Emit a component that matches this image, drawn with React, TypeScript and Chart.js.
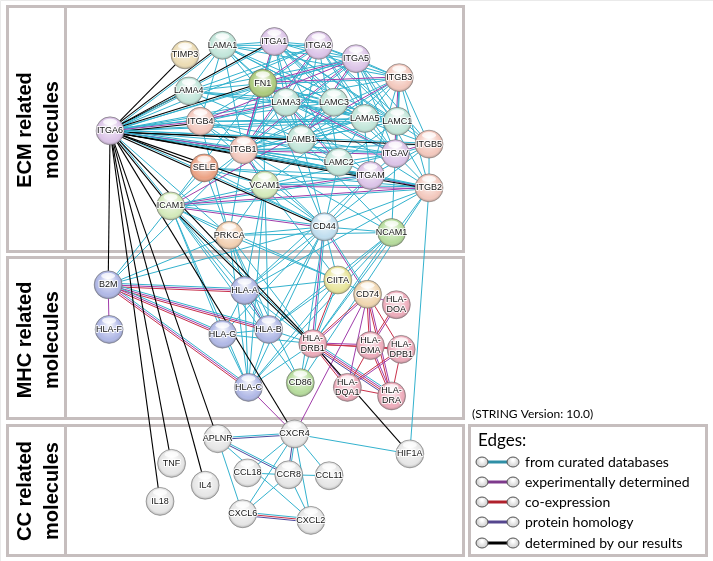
import React, { useEffect, useRef } from "react";
import { Chart, registerables } from "chart.js";
Chart.register(...registerables);

// ---------- data ----------
const nodeNames = [
  "TIMP3", "LAMA1", "ITGA1", "ITGA2", "ITGA5", "ITGB3", "FN1", "LAMA4", "LAMA3", "LAMC3",
  "LAMA5", "LAMC1", "ITGA6", "ITGB4", "LAMB1", "ITGB5", "ITGB1", "ITGAV", "LAMC2", "SELE",
  "ITGAM", "VCAM1", "ITGB2", "ICAM1", "CD44", "NCAM1", "PRKCA",
  "B2M", "HLA-F", "HLA-A", "CIITA", "CD74", "HLA-DOA", "HLA-G", "HLA-B", "HLA-DRB1",
  "HLA-DMA", "HLA-DPB1", "HLA-C", "CD86", "HLA-DQA1", "HLA-DRA",
  "APLNR", "CXCR4", "HIF1A", "TNF", "CCL18", "CCR8", "CCL11", "IL4", "IL18", "CXCL6", "CXCL2",
];
const nodeX = [
  178, 217, 271, 317, 356, 401, 259, 182, 283, 333,
  365, 399, 100, 194, 299, 432, 239, 397, 338, 198,
  371, 261, 432, 163, 323, 393, 224,
  98, 99, 240, 337, 368, 398, 217, 265, 311,
  371, 403, 244, 298, 347, 393,
  212, 292, 412, 164, 243, 286, 328, 199, 152, 238, 309,
];
const nodeY = [
  43, 33, 29, 33, 47, 67, 73, 81, 93, 93,
  110, 113, 123, 113, 132, 137, 143, 147, 156, 162,
  170, 180, 183, 202, 224, 230, 233,
  285, 332, 291, 280, 295, 306, 337, 332, 347,
  349, 353, 393, 388, 393, 402,
  447, 442, 463, 473, 483, 485, 486, 496, 513, 526, 533,
];
const nodeGroup = [
  "timp", "lam", "itga", "itga", "itga", "itgb", "fn", "lam", "lam", "lam",
  "lam", "lam", "itga", "itgb", "lam", "itgb", "itgb", "itga", "lam", "sele",
  "itga", "vcam", "itgb", "vcam", "cd44", "ncam", "prkca",
  "hla1", "hla1", "hla1", "ciita", "cd74", "hla2", "hla1", "hla1", "hla2",
  "hla2", "hla2", "hla1", "ncam", "hla2", "hla2",
  "cc", "cc", "cc", "cc", "cc", "cc", "cc", "cc", "cc", "cc", "cc",
];

const panelLabels = [["ECM related", "molecules"], ["MHC related", "molecules"], ["CC related", "molecules"]];
const legendTitle = "Edges:";
const legendLabels = ["from curated databases", "experimentally determined", "co-expression", "protein homology", "determined by our results"];
const versionNote = "(STRING Version: 10.0)";

const curatedEdges = [
  ["ITGA6","ITGB4"],["ITGA6","ITGB1"],["ITGA6","LAMA1"],["ITGA6","LAMA3"],["ITGA6","LAMA4"],["ITGA6","LAMA5"],["ITGA6","LAMB1"],["ITGA6","LAMC1"],["ITGA6","LAMC2"],["ITGA6","LAMC3"],["ITGA6","ITGA5"],["ITGA6","ITGB3"],["ITGA6","ITGB5"],["ITGA6","ITGAV"],["ITGA6","FN1"],["ITGA6","CD44"],["ITGA6","ICAM1"],["ITGA6","ITGA1"],["ITGA6","ITGA2"],["ITGA6","PRKCA"],["ITGA6","ITGAM"],["ITGA6","ITGB2"],
  ["ITGB4","LAMA3"],["ITGB4","LAMA5"],["ITGB4","LAMB1"],["ITGB4","LAMC2"],["ITGB4","LAMC1"],["ITGB4","ITGB1"],["ITGB4","LAMA1"],["ITGB4","PRKCA"],["ITGB4","CD44"],
  ["ITGB1","ITGA1"],["ITGB1","ITGA2"],["ITGB1","ITGA5"],["ITGB1","ITGAV"],["ITGB1","FN1"],["ITGB1","LAMA1"],["ITGB1","LAMA3"],["ITGB1","LAMA4"],["ITGB1","LAMA5"],["ITGB1","LAMB1"],["ITGB1","LAMC1"],["ITGB1","LAMC2"],["ITGB1","LAMC3"],["ITGB1","VCAM1"],["ITGB1","ICAM1"],["ITGB1","CD44"],["ITGB1","PRKCA"],["ITGB1","NCAM1"],["ITGB1","ITGB3"],["ITGB1","ITGB5"],["ITGB1","ITGB2"],["ITGB1","ITGAM"],
  ["ITGA1","LAMA1"],["ITGA1","LAMB1"],["ITGA1","LAMC1"],["ITGA1","ITGA2"],["ITGA1","ITGA5"],["ITGA1","ITGAV"],["ITGA1","ITGB3"],["ITGA1","FN1"],["ITGA1","LAMA5"],["ITGA1","LAMC2"],["ITGA1","LAMA3"],["ITGA1","ITGB5"],["ITGA1","LAMC3"],
  ["ITGA2","LAMA1"],["ITGA2","LAMB1"],["ITGA2","LAMC1"],["ITGA2","ITGA5"],["ITGA2","ITGAV"],["ITGA2","ITGB3"],["ITGA2","FN1"],["ITGA2","LAMA3"],["ITGA2","LAMA5"],["ITGA2","ITGB5"],["ITGA2","LAMC2"],["ITGA2","LAMA4"],
  ["ITGA5","FN1"],["ITGA5","ITGB3"],["ITGA5","ITGAV"],["ITGA5","ITGB5"],["ITGA5","LAMA1"],["ITGA5","LAMB1"],["ITGA5","LAMC1"],["ITGA5","LAMA5"],["ITGA5","LAMA3"],["ITGA5","ITGAM"],["ITGA5","LAMA4"],["ITGA5","ITGB2"],
  ["ITGB3","ITGAV"],["ITGB3","FN1"],["ITGB3","ITGB5"],["ITGB3","ITGAM"],["ITGB3","ITGB2"],["ITGB3","LAMB1"],["ITGB3","LAMC1"],["ITGB3","LAMA5"],["ITGB3","VCAM1"],["ITGB3","LAMA1"],
  ["ITGAV","ITGB5"],["ITGAV","FN1"],["ITGAV","ITGB2"],["ITGAV","LAMA5"],["ITGAV","LAMB1"],["ITGAV","LAMC1"],["ITGAV","VCAM1"],["ITGAV","ITGAM"],["ITGAV","NCAM1"],["ITGAV","LAMC2"],["ITGAV","LAMA3"],
  ["ITGAM","ITGB2"],["ITGAM","ICAM1"],["ITGAM","VCAM1"],["ITGAM","FN1"],["ITGAM","CD44"],["ITGAM","LAMB1"],["ITGAM","ITGB5"],["ITGAM","SELE"],
  ["ITGB2","ICAM1"],["ITGB2","VCAM1"],["ITGB2","FN1"],["ITGB2","SELE"],["ITGB2","CD44"],["ITGB2","ITGB5"],
  ["FN1","LAMA1"],["FN1","LAMB1"],["FN1","LAMC1"],["FN1","LAMA3"],["FN1","ITGB5"],["FN1","VCAM1"],["FN1","CD44"],["FN1","ICAM1"],["FN1","LAMA4"],["FN1","ITGB4"],["FN1","LAMA5"],["FN1","LAMC3"],
  ["LAMA1","LAMB1"],["LAMA1","LAMC1"],["LAMA1","LAMA3"],["LAMA3","LAMB1"],["LAMA3","LAMC1"],["LAMA3","LAMC2"],["LAMA3","LAMC3"],["LAMA4","LAMB1"],["LAMA4","LAMC1"],["LAMA4","LAMA1"],["LAMA5","LAMB1"],["LAMA5","LAMC1"],["LAMA5","LAMC2"],["LAMA5","LAMC3"],["LAMB1","LAMC1"],["LAMB1","LAMC2"],["LAMB1","LAMC3"],["LAMC1","LAMC2"],["LAMC3","LAMA1"],["LAMA4","LAMA3"],["LAMA4","LAMC3"],["LAMA1","LAMA5"],["LAMA3","LAMA5"],["LAMC3","LAMC1"],
  ["ICAM1","VCAM1"],["ICAM1","SELE"],["ICAM1","CD44"],["ICAM1","PRKCA"],["ICAM1","B2M"],["ICAM1","HLA-A"],["ICAM1","HLA-B"],["ICAM1","HLA-C"],["ICAM1","HLA-G"],["ICAM1","HLA-DRB1"],["ICAM1","CIITA"],["ICAM1","CD86"],
  ["VCAM1","SELE"],["VCAM1","CD44"],["VCAM1","PRKCA"],["VCAM1","CIITA"],["VCAM1","HLA-A"],["SELE","CD44"],["SELE","PRKCA"],
  ["CD44","NCAM1"],["CD44","PRKCA"],["CD44","LAMB1"],["CD44","HLA-A"],["CD44","HLA-B"],["CD44","HLA-C"],["CD44","HLA-DRB1"],["CD44","CD74"],["CD44","CIITA"],["CD44","B2M"],["CD44","CD86"],["CD44","LAMC2"],["CD44","ITGB5"],["CD44","HLA-G"],
  ["NCAM1","PRKCA"],["NCAM1","LAMB1"],["NCAM1","HLA-B"],["NCAM1","HLA-DRB1"],["NCAM1","CIITA"],
  ["PRKCA","HLA-A"],["PRKCA","CD86"],["PRKCA","HLA-DRB1"],["PRKCA","B2M"],["PRKCA","HLA-C"],["PRKCA","HLA-B"],["PRKCA","CIITA"],
  ["HLA-DRB1","ITGB2"],["HLA-A","ITGAM"],["HLA-B","VCAM1"],["HLA-C","VCAM1"],["CD86","ITGB2"],["HLA-C","NCAM1"],["HLA-A","ITGB2"],["B2M","ITGB1"],
  ["B2M","HLA-A"],["B2M","HLA-B"],["B2M","HLA-C"],["B2M","HLA-G"],["HLA-A","HLA-B"],["HLA-A","HLA-C"],["HLA-A","HLA-G"],["HLA-A","HLA-DRB1"],["HLA-A","CIITA"],["HLA-B","HLA-C"],["HLA-B","HLA-G"],["HLA-B","HLA-DRB1"],["HLA-B","CIITA"],["HLA-C","HLA-G"],["HLA-C","HLA-DRB1"],["HLA-C","CIITA"],["HLA-G","HLA-DRB1"],["HLA-DRB1","CIITA"],["HLA-DRB1","CD86"],["HLA-DRB1","HLA-DRA"],["CIITA","CD74"],
  ["APLNR","CXCR4"],["APLNR","CCR8"],["APLNR","CXCL6"],["APLNR","CXCL2"],["CXCR4","CCR8"],["CXCR4","CCL11"],["CXCR4","CXCL2"],["CXCR4","CXCL6"],["CXCR4","HIF1A"],["CXCR4","CCL18"],["CCR8","CCL18"],["CCR8","CCL11"],["CCR8","CXCL6"],["CCR8","CXCL2"],["CXCL6","CXCL2"],["ITGB2","HIF1A"],
];
const experimentalEdges = [
  ["ITGA6","ITGB4"],["ITGA6","ITGB1"],["ITGB1","ITGA1"],["ITGB1","ITGA2"],["ITGB1","ITGA5"],["ITGB1","ITGAV"],["ITGB1","FN1"],["ITGB1","VCAM1"],["ITGA5","FN1"],["ITGB3","ITGAV"],["ITGB3","FN1"],["ITGAV","ITGB5"],["ITGAM","ITGB2"],["ITGAM","ICAM1"],["ITGB2","ICAM1"],["ITGB4","LAMA3"],["LAMA3","LAMC2"],["ITGA2","FN1"],["ITGA5","LAMB1"],["ITGB3","ICAM1"],["ITGB2","VCAM1"],["ICAM1","CD44"],["ITGA5","ITGB4"],["ITGAV","FN1"],
  ["B2M","HLA-F"],["B2M","HLA-A"],["B2M","HLA-B"],["B2M","HLA-C"],["B2M","HLA-G"],["HLA-DRB1","CD74"],["HLA-DRB1","HLA-DMA"],["HLA-DRB1","HLA-DQA1"],["HLA-DRB1","HLA-DRA"],["CD74","HLA-DMA"],["CD74","HLA-DRA"],["CD74","HLA-DQA1"],["CD74","CD44"],["CD74","CXCR4"],["HLA-C","CXCR4"],["HLA-DMA","HLA-DOA"],["HLA-DMA","HLA-DRA"],["HLA-DQA1","HLA-DPB1"],["CD44","HLA-DRB1"],["CD74","HLA-DOA"],
];
const coexpressionEdges = [
  ["B2M","HLA-A"],["B2M","HLA-B"],["B2M","HLA-C"],["B2M","HLA-G"],["HLA-DRB1","CD74"],["HLA-DRB1","HLA-DMA"],["HLA-DRB1","HLA-DQA1"],["HLA-DRB1","HLA-DRA"],["HLA-DRB1","HLA-DPB1"],["HLA-DRB1","CIITA"],["CD74","HLA-DMA"],["CD74","HLA-DRA"],["CD74","HLA-DPB1"],["HLA-DMA","HLA-DOA"],["HLA-DMA","HLA-DRA"],["HLA-DMA","HLA-DQA1"],["HLA-DMA","HLA-DPB1"],["HLA-DQA1","HLA-DRA"],["HLA-DQA1","HLA-DPB1"],["HLA-DRA","HLA-DPB1"],["CXCL6","CXCL2"],
];
const homologyEdges = [
  ["APLNR","CXCR4"],["APLNR","CCR8"],["CXCL6","CXCL2"],["CXCR4","CCR8"],["HLA-A","HLA-B"],["HLA-DRB1","HLA-DRA"],
];
const ourResultEdges = [
  ["ITGA6","TIMP3"],["ITGA6","LAMA1"],["ITGA6","ITGA1"],["ITGA6","LAMA4"],["ITGA6","FN1"],["ITGA6","ITGB4"],["ITGA6","ITGB1"],["ITGA6","LAMB1"],["ITGA6","ITGB5"],["ITGA6","SELE"],["ITGA6","ITGAM"],["ITGA6","ITGB2"],["ITGA6","CD44"],["ITGA6","ICAM1"],["ITGA6","VCAM1"],
  ["ITGA6","B2M"],["ITGA6","IL18"],["ITGA6","TNF"],["ITGA6","IL4"],["ITGA6","APLNR"],["ITGA6","HLA-DRB1"],["ITGA6","CXCR4"],["ICAM1","HLA-DRB1"],["HLA-DRB1","HIF1A"],
];

// ---------- styles ----------
const groupColor: Record<string, string> = {
  timp: "#ecdcb4", lam: "#c2e6da", itga: "#dcc4e8", itgb: "#f3c8bd", fn: "#accb7c",
  sele: "#eca283", vcam: "#d4eabb", cd44: "#c0deef", ncam: "#b6dc9c", prkca: "#f2d0b2",
  hla1: "#b0b8e6", ciita: "#e8e59a", cd74: "#f0d6b0", hla2: "#eeacbb", cc: "#e6e6e6",
};
const kindOrder = ["c", "e", "x", "h", "b"];
const kindColor: Record<string, string> = { c: "#33b2ce", e: "#a03caa", x: "#c8304a", h: "#4e4a9e", b: "#000000" };
const FONT = "'Liberation Sans', Arial, sans-serif";
const LFONT = "Lato, 'Open Sans', sans-serif";

const networkPlugin = {
  id: "network",
  beforeDraw(chart: any) {
    const ctx = chart.ctx as CanvasRenderingContext2D;
    ctx.save();
    ctx.fillStyle = "#ffffff";
    ctx.fillRect(0, 0, chart.width, chart.height);
    ctx.strokeStyle = "#eaeaea";
    ctx.lineWidth = 1;
    ctx.beginPath();
    ctx.moveTo(0.5, chart.height); ctx.lineTo(0.5, 0.5); ctx.lineTo(chart.width, 0.5);
    ctx.stroke();
    const panels = [[6.5, 251.5, 130], [257.5, 418.5, 340], [425.5, 555.5, 491]];
    ctx.strokeStyle = "#c6bebe";
    ctx.lineWidth = 3;
    panels.forEach((p, i) => {
      ctx.strokeRect(7.5, p[0], 456, p[1] - p[0]);
      ctx.beginPath();
      ctx.moveTo(65.5, p[0]);
      ctx.lineTo(65.5, p[1]);
      ctx.stroke();
      ctx.save();
      ctx.translate(38.5, p[2]);
      ctx.rotate(-Math.PI / 2);
      ctx.fillStyle = "#000";
      ctx.font = `bold 20px ${FONT}`;
      ctx.textAlign = "center";
      ctx.textBaseline = "middle";
      ctx.fillText(panelLabels[i][0], 0, -13.5);
      ctx.fillText(panelLabels[i][1], 0, 13.5);
      ctx.restore();
    });
    ctx.restore();
  },
  beforeDatasetsDraw(chart: any) {
    const ctx = chart.ctx as CanvasRenderingContext2D;
    const pts = chart.getDatasetMeta(0).data;
    const idx: Record<string, number> = {};
    nodeNames.forEach((n, i) => (idx[n] = i));
    const pairs: Record<string, { a: number; b: number; kinds: string[] }> = {};
    const add = (list: string[][], k: string) =>
      list.forEach(([s, t]) => {
        const a = idx[s], b = idx[t];
        if (a === undefined || b === undefined) return;
        const key = a < b ? a + "|" + b : b + "|" + a;
        if (!pairs[key]) pairs[key] = { a: Math.min(a, b), b: Math.max(a, b), kinds: [] };
        if (!pairs[key].kinds.includes(k)) pairs[key].kinds.push(k);
      });
    add(curatedEdges, "c");
    add(experimentalEdges, "e");
    add(coexpressionEdges, "x");
    add(homologyEdges, "h");
    add(ourResultEdges, "b");
    ctx.save();
    const list = Object.values(pairs);
    list.sort((p, q) => (p.kinds.includes("b") ? 1 : 0) - (q.kinds.includes("b") ? 1 : 0));
    list.forEach((p) => {
      const A = pts[p.a], B = pts[p.b];
      const dx = B.x - A.x, dy = B.y - A.y;
      const len = Math.hypot(dx, dy) || 1;
      const nx = -dy / len, ny = dx / len;
      const kinds = kindOrder.filter((k) => p.kinds.includes(k));
      kinds.forEach((k, i) => {
        const off = (i - (kinds.length - 1) / 2) * 1.7;
        ctx.strokeStyle = kindColor[k];
        ctx.lineWidth = k === "b" ? 1.1 : 1;
        ctx.beginPath();
        ctx.moveTo(A.x + nx * off, A.y + ny * off);
        ctx.lineTo(B.x + nx * off, B.y + ny * off);
        ctx.stroke();
      });
    });
    ctx.restore();
  },
  afterDatasetsDraw(chart: any) {
    const ctx = chart.ctx as CanvasRenderingContext2D;
    const pts = chart.getDatasetMeta(0).data;
    ctx.save();
    pts.forEach((pt: any, i: number) => {
      const x = pt.x, y = pt.y, r = 14;
      const g = ctx.createRadialGradient(x, y - r * 0.45, r * 0.05, x, y, r);
      g.addColorStop(0, "rgba(255,255,255,0.9)");
      g.addColorStop(0.5, "rgba(255,255,255,0.3)");
      g.addColorStop(0.8, "rgba(255,255,255,0.0)");
      g.addColorStop(1, "rgba(0,0,0,0.28)");
      ctx.fillStyle = g;
      ctx.beginPath();
      ctx.arc(x, y, r, 0, Math.PI * 2);
      ctx.fill();
      ctx.fillStyle = "rgba(255,255,255,0.75)";
      ctx.beginPath();
      ctx.ellipse(x, y - r * 0.64, r * 0.5, r * 0.22, 0, 0, Math.PI * 2);
      ctx.fill();
      ctx.strokeStyle = "rgba(100,100,100,0.55)";
      ctx.lineWidth = 0.8;
      ctx.beginPath();
      ctx.arc(x, y, r, 0, Math.PI * 2);
      ctx.stroke();
      const name = nodeNames[i];
      ctx.font = `9px ${FONT}`;
      ctx.textAlign = "center";
      ctx.textBaseline = "middle";
      ctx.lineJoin = "round";
      ctx.strokeStyle = "rgba(255,255,255,0.85)";
      ctx.lineWidth = 2.2;
      ctx.fillStyle = "#151515";
      const lines = name.startsWith("HLA-D") ? [["HLA-", -5], [name.slice(4), 5]] : [[name, 0]];
      lines.forEach(([t, dy]) => {
        ctx.strokeText(t as string, x, y + (dy as number));
        ctx.fillText(t as string, x, y + (dy as number));
      });
    });
    ctx.restore();
  },
  afterDraw(chart: any) {
    const ctx = chart.ctx as CanvasRenderingContext2D;
    ctx.save();
    ctx.fillStyle = "#000";
    ctx.font = `12px ${LFONT}`;
    ctx.textBaseline = "alphabetic";
    ctx.fillText(versionNote, 472, 418);
    ctx.strokeStyle = "#c6bebe";
    ctx.lineWidth = 3;
    ctx.strokeRect(469.5, 425.5, 237, 130);
    ctx.font = `17px ${LFONT}`;
    ctx.fillText(legendTitle, 478, 446);
    const rows = [462, 482, 502, 522, 543];
    const kinds = ["c", "e", "x", "h", "b"];
    const legendLine: Record<string, string> = { c: "#2f8fa6", e: "#7e3a8c", x: "#b0202c", h: "#55468e", b: "#000" };
    rows.forEach((ry, i) => {
      ctx.strokeStyle = legendLine[kinds[i]];
      ctx.lineWidth = 3;
      ctx.beginPath();
      ctx.moveTo(487, ry);
      ctx.lineTo(508, ry);
      ctx.stroke();
      [482, 513].forEach((cx) => {
        const g = ctx.createRadialGradient(cx, ry - 2, 1, cx, ry, 6);
        g.addColorStop(0, "#ffffff");
        g.addColorStop(1, "#c8c8c8");
        ctx.fillStyle = g;
        ctx.strokeStyle = "#555";
        ctx.lineWidth = 1;
        ctx.beginPath();
        ctx.ellipse(cx, ry, 6, 5, 0, 0, Math.PI * 2);
        ctx.fill();
        ctx.stroke();
      });
      ctx.fillStyle = "#000";
      ctx.font = `14px ${LFONT}`;
      ctx.textBaseline = "middle";
      ctx.fillText(legendLabels[i], 525, ry);
    });
    ctx.restore();
  },
};

export default function App() {
  const ref = useRef<HTMLCanvasElement | null>(null);
  useEffect(() => {
    document.body.style.margin = "0";
    const canvas = ref.current!;
    const chart = new Chart(canvas, {
      type: "scatter",
      data: {
        datasets: [
          {
            data: nodeX.map((x, i) => ({ x, y: nodeY[i] })),
            pointRadius: 14,
            pointHoverRadius: 14,
            pointBackgroundColor: nodeGroup.map((g) => groupColor[g]),
            pointBorderColor: "rgba(0,0,0,0)",
            pointBorderWidth: 0,
          },
        ],
      },
      options: {
        animation: false,
        responsive: false,
        events: [],
        layout: { padding: 0 },
        plugins: { legend: { display: false }, tooltip: { enabled: false } },
        scales: {
          x: { type: "linear", min: 0, max: 713, display: false },
          y: { type: "linear", min: 0, max: 561, reverse: true, display: false },
        },
      },
      plugins: [networkPlugin],
    });
    return () => chart.destroy();
  }, []);
  return <canvas ref={ref} width={713} height={561} style={{ display: "block" }} />;
}
